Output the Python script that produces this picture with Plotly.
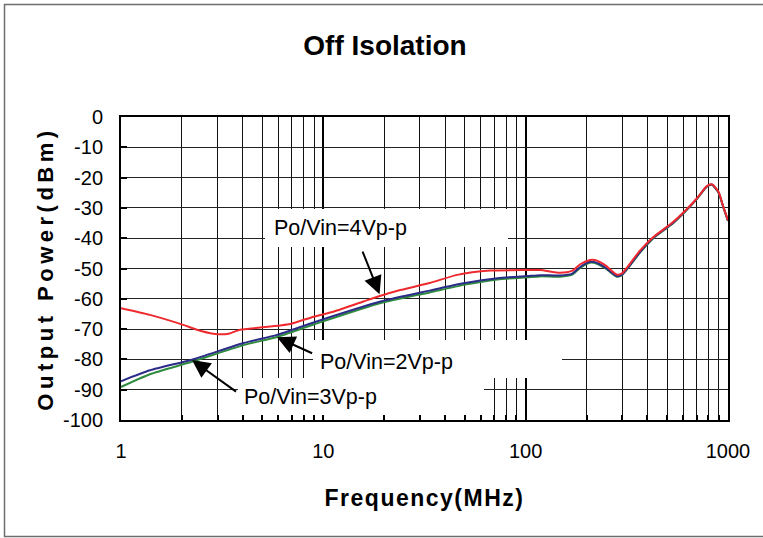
import plotly.graph_objects as go

# ---------------- data ----------------
freq_4v = [1, 1.39, 2.03, 2.37, 2.86, 3.4, 3.88, 4.88, 6.86, 8.95, 11.3, 15.8, 19.2, 24, 33.5,
           45.9, 67, 102, 118, 148, 169, 186, 208, 220, 247, 282, 299, 368, 428, 537, 701,
           786, 832, 897, 949, 1000]
pwr_4v = [-63.1, -65.3, -68.6, -70.2, -71.5, -71.5, -70.2, -69.5, -68.3, -65.9, -64.2, -60.9,
          -59.0, -57.1, -54.8, -52.1, -50.7, -50.5, -50.5, -51.4, -50.8, -48.6, -47.2, -47.2,
          -48.9, -52.0, -51.6, -44.0, -39.6, -34.6, -26.9, -22.8, -22.2, -24.7, -29.7, -34.1]

freq_23v = [1, 1.39, 2.24, 4.03, 5.9, 8.95, 19.2, 33.5, 49.3, 72.5, 102, 118, 148, 169, 186,
            208, 220, 247, 282, 299, 368, 428, 537, 701, 786, 832, 897, 949, 1000]
pwr_2v = [-87.2, -83.6, -80.1, -74.6, -71.9, -67.8, -60.9, -57.3, -54.9, -53.2, -52.5, -52.2,
          -52.3, -51.8, -49.5, -47.8, -47.9, -49.6, -52.5, -52.0, -44.5, -39.8, -34.8, -27.0,
          -22.9, -22.3, -24.8, -29.8, -34.2]
pwr_3v = [-89.1, -84.9, -80.8, -75.3, -72.6, -68.5, -61.4, -57.9, -55.4, -53.6, -52.9, -52.6,
          -52.7, -52.1, -49.8, -48.1, -48.2, -49.9, -52.7, -52.2, -44.7, -40.0, -35.0, -27.1,
          -23.0, -22.4, -24.9, -29.9, -34.3]

x_major = [1, 10, 100, 1000]
x_major_text = ["1", "10", "100", "1000"]
x_minor = [m * d for d in (1, 10, 100) for m in range(2, 10)]
y_ticks = list(range(-100, 1, 10))
y_tick_text = [str(v) for v in y_ticks]

labels = ["Po/Vin=4Vp-p", "Po/Vin=2Vp-p", "Po/Vin=3Vp-p"]
# arrow tips / tails in data units (log10 freq, dBm)
arrow_tip = [(1.278, -58.5), (0.771, -72.7), (0.351, -80.2)]
arrow_tail = [(1.191, -43.9), (0.952, -78.2), (0.576, -91.0)]

# ---------------- layout geometry (pixels) ----------------
W, H = 763, 538
L, R, T, B = 121, 35, 117, 118
PW, PH = W - L - R, H - T - B


def px(xp):
    return (xp - L) / PW


def py(yp):
    return (H - B - yp) / PH


FONT = "Liberation Sans, Arial, sans-serif"

fig = go.Figure()
fig.add_trace(go.Scatter(x=freq_23v, y=pwr_3v, mode="lines", name=labels[2],
                         line=dict(color="#2e8b3e", width=2, shape="spline", smoothing=0.6)))
fig.add_trace(go.Scatter(x=freq_23v, y=pwr_2v, mode="lines", name=labels[1],
                         line=dict(color="#2b2b88", width=2, shape="spline", smoothing=0.6)))
fig.add_trace(go.Scatter(x=freq_4v, y=pwr_4v, mode="lines", name=labels[0],
                         line=dict(color="#ee2a2e", width=2, shape="spline", smoothing=0.6)))

shapes = []
# white label boxes covering the grid
boxes = [(265, 209, 508, 247), (313, 340, 562, 378), (238, 378, 484, 415)]
for (x0, y0, x1, y1) in boxes:
    shapes.append(dict(type="rect", xref="paper", yref="paper",
                       x0=px(x0), x1=px(x1), y0=py(y1), y1=py(y0),
                       fillcolor="white", line=dict(width=0), layer="above"))
# outer border
shapes.append(dict(type="rect", xref="paper", yref="paper",
                   x0=px(4.5), x1=px(780), y0=py(536.5), y1=py(4.5),
                   line=dict(color="#6e6e6e", width=1.5), fillcolor="rgba(0,0,0,0)",
                   layer="above"))

annotations = []
text_centers = [(340, 226), (386, 360), (310, 395)]
for lab, (cx, cy) in zip(labels, text_centers):
    annotations.append(dict(text=lab, xref="paper", yref="paper", x=px(cx), y=py(cy + 2),
                            xanchor="center", yanchor="middle", showarrow=False,
                            font=dict(family=FONT, size=21.5, color="black")))
for (tx, ty), (ax, ay) in zip(arrow_tip, arrow_tail):
    annotations.append(dict(text="", x=tx, y=ty, xref="x", yref="y", ax=ax, ay=ay,
                            axref="x", ayref="y", showarrow=True, arrowhead=2,
                            arrowsize=1.8, arrowwidth=2, arrowcolor="black", standoff=0))

fig.update_layout(
    width=W, height=H,
    margin=dict(l=L, r=R, t=T, b=B),
    paper_bgcolor="white", plot_bgcolor="white",
    showlegend=False,
    font=dict(family=FONT, color="black"),
    title=dict(text="<b>Off Isolation</b>", x=385 / W, y=1 - 45 / H, xref="container",
               yref="container", xanchor="center", yanchor="middle",
               font=dict(family=FONT, size=28, color="black")),
    shapes=shapes,
    annotations=annotations,
)

fig.update_xaxes(
    type="log", range=[0, 3],
    tickvals=x_major, ticktext=x_major_text,
    showgrid=True, gridcolor="black", gridwidth=2,
    ticks="inside", ticklen=5, tickwidth=2, tickcolor="black",
    showline=True, linecolor="black", linewidth=2, mirror=True,
    tickfont=dict(family=FONT, size=20, color="black"),
    ticklabelstandoff=12,
    minor=dict(tickvals=x_minor, showgrid=True, gridcolor="#111111", gridwidth=1,
               ticks="inside", ticklen=5, tickwidth=1.5, tickcolor="black"),
    title=dict(text='<span style="letter-spacing:1.5px"><b>Frequency(MHz)</b></span>',
               font=dict(family=FONT, size=23, color="black"), standoff=29),
    zeroline=False,
)
fig.update_yaxes(
    range=[-100, 0], tickvals=y_ticks, ticktext=y_tick_text,
    showgrid=True, gridcolor="#222222", gridwidth=1,
    ticks="inside", ticklen=6, tickwidth=2, tickcolor="black",
    showline=True, linecolor="black", linewidth=2, mirror=True,
    tickfont=dict(family=FONT, size=20, color="black"),
    ticklabelstandoff=12,
    title=dict(text='<span style="letter-spacing:4.5px"><b>Output Power(dBm)</b></span>',
               font=dict(family=FONT, size=22, color="black"), standoff=3),
    zeroline=False,
)

fig.write_html("out.html")
